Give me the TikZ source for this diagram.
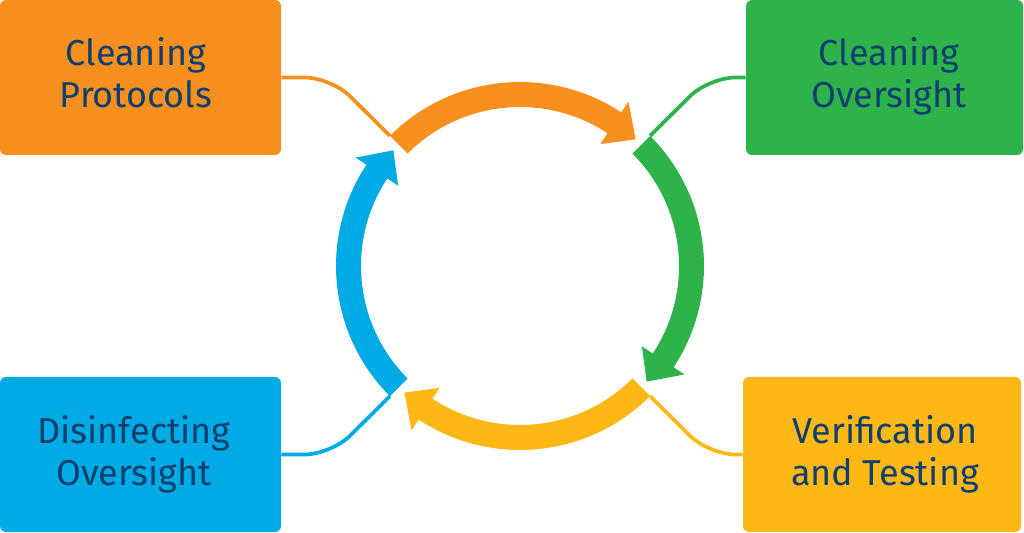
\documentclass[tikz,border=0pt]{standalone}
\usepackage{fontspec}
\setmainfont{Fira Sans}
\definecolor{cOrange}{HTML}{F7901E}
\definecolor{cGreen}{HTML}{2EB34B}
\definecolor{cBlue}{HTML}{00AAE4}
\definecolor{cYellow}{HTML}{FDB815}
\definecolor{cText}{HTML}{0E3F6E}
\newcommand\cycarrow[2]{%
  \pgfmathsetmacro\tipang{#1-87.4}%
  \pgfmathsetmacro\baseang{#1-78.4}%
  \fill[#2] (#1:184) arc[start angle=#1, end angle=\baseang, radius=184]
    -- (\baseang:197) -- (\tipang:171.5) -- (\baseang:146) -- (\baseang:159)
    arc[start angle=\baseang, end angle=#1, radius=159] -- cycle;
}
\tikzset{
  box/.style={rectangle, rounded corners=4.5pt, inner sep=0pt, draw=none,
    minimum height=116.25pt},
  lbl/.style={text=cText, align=center, inner sep=0pt,
    font=\fontsize{27}{31.5}\selectfont},
  conn/.style={line width=2.8pt, rounded corners=20pt}
}
\begin{document}
\begin{tikzpicture}[x=0.75pt,y=0.75pt]
\useasboundingbox (0,0) rectangle (1024,532);
% boxes
\node[box, fill=cOrange, minimum width=210.75pt] (b1) at (140.5,454.5) {};
\node[box, fill=cGreen,  minimum width=207.75pt] (b2) at (884.5,454.5) {};
\node[box, fill=cYellow, minimum width=208.5pt]  (b4) at (882,77.5) {};
\node[box, fill=cBlue,   minimum width=210.75pt] (b3) at (140.5,77.5) {};
% labels (anchor base = baseline of the last line)
\node[lbl, anchor=base] (t1) at (136,424) {Cleaning\\Protocols};
\node[lbl, anchor=base] (t2) at (889,424) {Cleaning\\Oversight};
\node[lbl, anchor=base] (t4) at (885,47) {Verification\\and Testing};
\node[lbl, anchor=base] (t3) at (134,47) {Disinfecting\\Oversight};
% cycle arrows
\begin{scope}[shift={(520,266)}]
  \cycarrow{135}{cOrange}
  \cycarrow{45}{cGreen}
  \cycarrow{-45}{cYellow}
  \cycarrow{225}{cBlue}
  \coordinate (c1) at (135:184);
  \coordinate (c2) at (45:184);
  \coordinate (c4) at (-45:184);
  \coordinate (c3) at (225:184);
  \coordinate (k1) at (135:267);
  \coordinate (k2) at (45:267);
  \coordinate (k4) at (-45:267);
  \coordinate (k3) at (225:267);
\end{scope}
% connectors
\draw[conn, cOrange] (b1.east) -- (b1.east -| k1) -- (c1);
\draw[conn, cGreen]  (b2.west) -- (b2.west -| k2) -- (c2);
\draw[conn, cYellow] (b4.west) -- (b4.west -| k4) -- (c4);
\draw[conn, cBlue]   (b3.east) -- (b3.east -| k3) -- (c3);
\end{tikzpicture}
\end{document}
